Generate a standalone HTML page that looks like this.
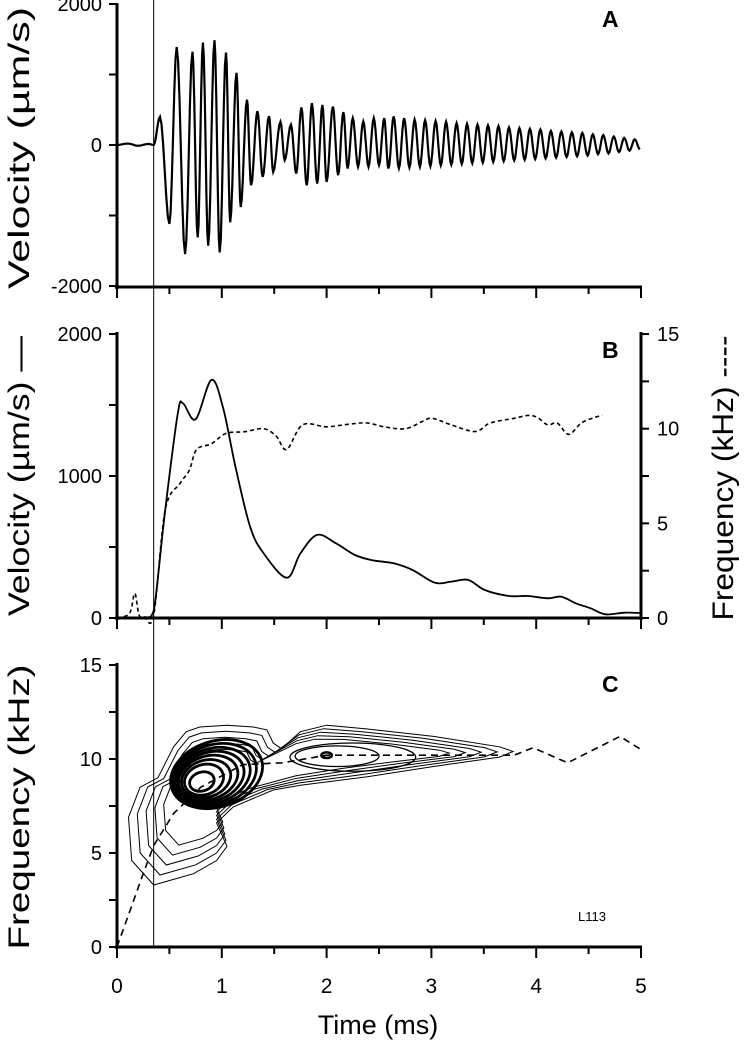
<!DOCTYPE html>
<html><head><meta charset="utf-8"><style>
body{margin:0;background:#fff}
svg{display:block;font-family:"Liberation Sans",sans-serif}
</style></head><body>
<svg id="fig" width="749" height="1050" viewBox="0 0 749 1050" xmlns="http://www.w3.org/2000/svg"></svg>
<script>
// ---- data ----
const timeTicks=[0,1,2,3,4,5];
const aT=[0,0.1,0.2,0.3,0.35,0.41,0.50,0.57,0.65,0.72,0.77,0.82,0.87,0.93,0.98,1.04,1.08,1.14,1.18,1.24,1.28,1.34,1.39,1.45,1.49,1.56,1.60,1.66,1.71,1.76,1.81,1.86,1.91,1.96,2.00,2.06,2.11,2.16,2.20,2.25,2.30,2.35,2.40,2.45,2.50,2.55,2.59,2.64,2.69,2.74,2.79,2.84,2.89,2.94,2.99,3.04,3.09,3.14,3.19,3.24,3.29,3.34,3.39,3.44,3.49,3.54,3.59,3.64,3.69,3.74,3.79,3.84,3.89,3.94,3.99,4.04,4.09,4.14,4.19,4.24,4.29,4.34,4.39,4.44,4.49,4.54,4.59,4.64,4.69,4.74,4.79,4.84,4.89,4.94,4.99];
const aV=[0,20,-10,15,0,400,-1119,1390,-1547,1324,-1310,1453,-1429,1486,-1524,1310,-1096,1024,-881,643,-571,481,-453,410,-381,329,-214,290,-404,533,-571,593,-548,569,-524,545,-429,466,-333,381,-310,333,-310,381,-286,381,-333,405,-330,380,-320,360,-310,350,-300,340,-290,330,-280,310,-270,300,-260,290,-250,280,-240,270,-230,250,-220,240,-210,230,-200,220,-190,200,-180,190,-170,180,-160,170,-150,150,-130,140,-120,120,-100,100,-80,80,-60];
const bT=[0,0.26,0.33,0.37,0.46,0.58,0.63,0.75,0.90,1.01,1.13,1.27,1.40,1.62,1.75,1.91,2.09,2.27,2.43,2.64,2.82,3.03,3.19,3.35,3.51,3.74,3.92,4.11,4.24,4.38,4.52,4.66,4.84,5.0];
const bV=[0,5,20,150,760,1441,1512,1399,1676,1488,1066,643,455,284,455,585,526,444,408,385,338,249,256,268,197,155,155,139,150,103,68,26,37,35];
const fT=[0,0.12,0.17,0.21,0.26,0.35,0.46,0.60,0.69,0.76,0.90,1.04,1.22,1.40,1.52,1.62,1.77,2.0,2.23,2.39,2.55,2.75,2.92,3.01,3.19,3.42,3.56,3.79,3.92,4.01,4.11,4.20,4.31,4.43,4.56,4.63];
const fV=[0,0.25,1.3,0.16,0.07,0.16,5.7,7.1,7.8,8.9,9.2,9.75,9.84,10.0,9.6,8.9,10.2,10.1,10.25,10.3,10.1,10.0,10.4,10.55,10.2,9.85,10.3,10.55,10.7,10.6,10.2,10.3,9.7,10.3,10.6,10.7];
const rT=[0,0.25,0.35,0.54,0.8,1.2,1.58,2.0,2.5,3.0,3.5,3.79,3.97,4.3,4.8,5.0];
const rV=[0,3.9,5.4,7.1,8.5,9.7,9.8,10.2,10.2,10.2,10.2,10.2,10.6,9.8,11.2,10.5];
const outerT=[0.35,0.14,0.11,0.22,0.39,0.54,0.66,0.79,1.05,1.30,1.43,1.49,1.57,1.75,2.0,2.38,3.02,3.65,3.78,3.65,3.02,2.38,1.75,1.49,1.11,0.95,1.05,0.95,0.73,0.35];
const outerF=[3.3,4.6,6.9,8.5,9.0,10.65,11.45,11.7,11.8,11.7,11.55,10.85,10.55,11.45,11.8,11.6,11.2,10.65,10.4,10.1,9.6,9.05,8.6,8.35,7.45,6.6,5.35,4.6,3.9,3.3];
const thinLevels=[1.0,0.9,0.8,0.7,0.6];
const innerCT=[0.95,0.93,0.91,0.89,0.87,0.85,0.83,0.81];
const innerCF=[9.2,9.15,9.1,9.05,9.0,8.95,8.9,8.8];
const innerRX=[0.45,0.41,0.37,0.33,0.29,0.24,0.19,0.12];
const innerRY=[1.75,1.6,1.45,1.3,1.15,0.98,0.8,0.5];
const c2T=[2.25,2.1,2.0];const c2F=[10.1,10.15,10.2];const c2RX=[0.6,0.4,0.05];const c2RY=[0.75,0.55,0.15];

// ---- axes ----
const X0=117,PX=104.8;
const xs=t=>X0+t*PX;
const yA=v=>145-v*0.0705;
const yB=v=>618-v*0.142;
const yBf=f=>618-f*18.93;
const yC=f=>947-f*18.8;
const svg=document.getElementById('fig');
const NS='http://www.w3.org/2000/svg';
function mk(tag,attrs,parent){const e=document.createElementNS(NS,tag);for(const k in attrs)e.setAttribute(k,attrs[k]);(parent||svg).appendChild(e);return e;}
function txt(s,x,y,attrs,parent){const e=mk('text',Object.assign({x:x,y:y},attrs||{}),parent);e.textContent=s;return e;}

function xAxis(y,labels,name){
  const g=mk('g',{});
  
  
  mk('line',{x1:X0-2,y1:y,x2:xs(5)+1,y2:y,stroke:'#000','stroke-width':3},g);
  for(let i=0;i<=10;i++){const x=xs(i*0.5);mk('line',{x1:x,y1:y,x2:x,y2:y+(i%2?7:11),stroke:'#000','stroke-width':2},g);}
  if(labels)timeTicks.forEach(t=>{txt(String(t),xs(t),y+46,{'font-size':21,'text-anchor':'middle'},g);});
}
function yAxis(y1,y2,ticks,fy,labels,name){
  const g=mk('g',{});
  
  
  mk('line',{x1:X0,y1:y1,x2:X0,y2:y2,stroke:'#000','stroke-width':3},g);
  ticks.forEach(v=>{mk('line',{x1:X0-8,y1:fy(v),x2:X0,y2:fy(v),stroke:'#000','stroke-width':2},g);});
  labels.forEach(v=>{txt(String(v),X0-15,fy(v)+7,{'font-size':20,'text-anchor':'end'},g);});
}
yAxis(3,289,[2000,1000,0,-1000,-2000],yA,[2000,0,-2000],'panel-a-y-axis');
xAxis(287,false,'panel-a-x-axis');
yAxis(332,620,[2000,1500,1000,500,0],yB,[2000,1000,0],'panel-b-y-axis');
xAxis(618,false,'panel-b-x-axis');
{const g=mk('g',{});
 const xr=xs(5);mk('line',{x1:xr,y1:332,x2:xr,y2:620,stroke:'#000','stroke-width':3},g);
 [0,2.5,5,7.5,10,12.5,15].forEach(f=>mk('line',{x1:xr,y1:yBf(f),x2:xr+8,y2:yBf(f),stroke:'#000','stroke-width':2},g));
 [0,5,10,15].forEach(f=>txt(String(f),xr+16,yBf(f)+7,{'font-size':20},g));}
yAxis(663,949,[0,2.5,5,7.5,10,12.5,15],yC,[15,10,5,0],'panel-c-y-axis');
xAxis(947,true,'panel-c-x-axis');

{const l=mk('line',{x1:xs(0.35),y1:0,x2:xs(0.35),y2:947,stroke:'#000','stroke-width':1});
 }

{let d='M'+xs(aT[0])+','+yA(aV[0]);
 for(let i=1;i<aT.length;i++){for(let k=1;k<=6;k++){const u=k/6,w=(1-Math.cos(Math.PI*u))/2;const t=aT[i-1]+(aT[i]-aT[i-1])*u,v=aV[i-1]+(aV[i]-aV[i-1])*w;d+=' L'+xs(t).toFixed(1)+','+yA(v).toFixed(1);}}
 const p=mk('path',{d:d,fill:'none',stroke:'#000','stroke-width':2.2});
 }

function smooth(T,V,fx,fy){let pts=T.map((t,i)=>[fx(t),fy(V[i])]);let d='M'+pts[0][0]+','+pts[0][1];
 for(let i=0;i<pts.length-1;i++){const p0=pts[Math.max(0,i-1)],p1=pts[i],p2=pts[i+1],p3=pts[Math.min(pts.length-1,i+2)];
 const c1=[p1[0]+(p2[0]-p0[0])/6,p1[1]+(p2[1]-p0[1])/6],c2=[p2[0]-(p3[0]-p1[0])/6,p2[1]-(p3[1]-p1[1])/6];
 d+=` C${c1[0].toFixed(1)},${c1[1].toFixed(1)} ${c2[0].toFixed(1)},${c2[1].toFixed(1)} ${p2[0].toFixed(1)},${p2[1].toFixed(1)}`;}return d;}
{const p=mk('path',{d:smooth(bT,bV,xs,yB),fill:'none',stroke:'#000','stroke-width':1.8});
 }
{const p=mk('path',{d:smooth(fT,fV,xs,yBf),fill:'none',stroke:'#000','stroke-width':1.6,'stroke-dasharray':'4,3'});
 }

// Panel C contours: shrink toward a core point (head) or toward ridge (tail)
function ridgeAt(t){for(let i=1;i<rT.length;i++){if(t<=rT[i]){const u=(t-rT[i-1])/(rT[i]-rT[i-1]);return rV[i-1]+(rV[i]-rV[i-1])*u;}}return rV[rV.length-1];}
thinLevels.forEach((s)=>{
  let d='';outerT.forEach((t,i)=>{let tt,f;
    if(t<1.6){tt=0.95+(t-0.95)*s;f=8.6+(outerF[i]-8.6)*s;}
    else{tt=1.6+(t-1.6)*(0.3+0.7*s);const r=ridgeAt(tt);f=r+(outerF[i]-ridgeAt(t))*s;}
    d+=(i?' L':'M')+xs(tt).toFixed(1)+','+yC(f).toFixed(1);});
  const p=mk('path',{d:d+'Z',fill:'none',stroke:'#000','stroke-width':1});
  });
innerCT.forEach((t,i)=>{const e=mk('ellipse',{cx:xs(t),cy:yC(innerCF[i]),rx:innerRX[i]*PX,ry:innerRY[i]*18.8,fill:'none',stroke:'#000','stroke-width':2.8,transform:`rotate(-18 ${xs(t)} ${yC(innerCF[i])})`});
  });
c2T.forEach((t,i)=>{const e=mk('ellipse',{cx:xs(t),cy:yC(c2F[i]),rx:c2RX[i]*PX,ry:c2RY[i]*18.8,fill:'none',stroke:'#000','stroke-width':i==2?2.5:1.3});
  });
{let d='';rT.forEach((t,i)=>{d+=(i?' L':'M')+xs(t).toFixed(1)+','+yC(rV[i]).toFixed(1);});
 const p=mk('path',{d:d,fill:'none',stroke:'#000','stroke-width':1.6,'stroke-dasharray':'7,5'});
 }

function lab(s,x,y,size,name,extra){const e=txt(s,x,y,Object.assign({'font-size':size},extra||{}));return e;}
lab('A',602,27,23,'panel-a-label',{'font-weight':'bold'});
lab('B',602,358,23,'panel-b-label',{'font-weight':'bold'});
lab('C',602,692,23,'panel-c-label',{'font-weight':'bold'});
lab('L113',578,921,13,'specimen-label');
lab('Velocity (µm/s)',29,148,30,'panel-a-y-title',{'text-anchor':'middle',textLength:282,lengthAdjust:'spacingAndGlyphs',transform:'rotate(-90 29 148)'});
lab('Velocity (µm/s) —',29,476,30,'panel-b-y-title',{'text-anchor':'middle',textLength:280,lengthAdjust:'spacingAndGlyphs',transform:'rotate(-90 29 476)'});
lab('Frequency (kHz) ----',733,478,30,'panel-b-right-title',{'text-anchor':'middle',textLength:285,lengthAdjust:'spacingAndGlyphs',transform:'rotate(-90 733 478)'});
lab('Frequency (kHz)',29,807,30,'panel-c-y-title',{'text-anchor':'middle',textLength:285,lengthAdjust:'spacingAndGlyphs',transform:'rotate(-90 29 807)'});
lab('Time (ms)',378,1034,27,'x-axis-title',{'text-anchor':'middle'});
</script>
</body></html>
